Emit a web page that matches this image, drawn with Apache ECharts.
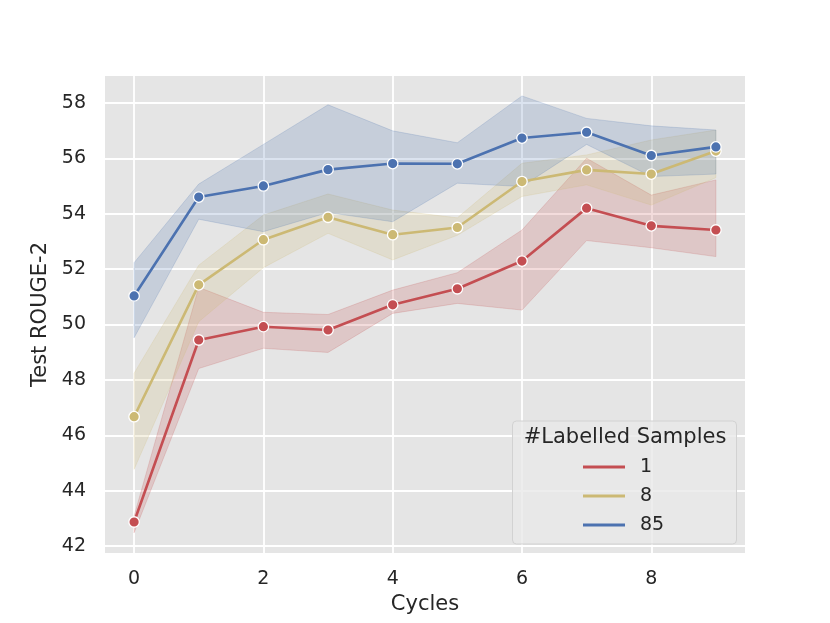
<!DOCTYPE html>
<html>
<head>
<meta charset="utf-8">
<script src="https://cdn.jsdelivr.net/npm/echarts@6/dist/echarts.min.js"></script>
<style>
html,body{margin:0;padding:0;background:#fff;}
#c{width:830px;height:623px;}
</style>
</head>
<body>
<div id="c"></div>
<script>
// ---- data ----
var cycles = [0, 1, 2, 3, 4, 5, 6, 7, 8, 9];
var seriesNames = ['1', '8', '85'];
var mean1  = [42.87, 49.44, 49.92, 49.80, 50.71, 51.29, 52.29, 54.20, 53.56, 53.41];
var upper1 = [43.08, 51.34, 50.44, 50.36, 51.24, 51.87, 53.41, 56.00, 54.67, 55.22];
var lower1 = [42.48, 48.41, 49.14, 48.99, 50.40, 50.76, 50.52, 53.03, 52.77, 52.45];
var mean8  = [46.67, 51.43, 53.06, 53.87, 53.24, 53.50, 55.16, 55.58, 55.43, 56.26];
var upper8 = [48.24, 52.14, 53.95, 54.71, 54.13, 53.85, 55.82, 56.12, 56.66, 57.02];
var lower8 = [44.77, 50.10, 52.05, 53.29, 52.33, 53.22, 54.62, 55.04, 54.31, 55.30];
var mean85  = [51.03, 54.60, 55.00, 55.59, 55.81, 55.80, 56.73, 56.94, 56.10, 56.41];
var upper85 = [52.23, 55.07, 56.50, 57.93, 56.99, 56.56, 58.25, 57.44, 57.17, 57.02];
var lower85 = [49.52, 53.80, 53.35, 54.04, 53.71, 55.10, 54.98, 56.50, 55.34, 55.43];
var colors = ['#C44E52', '#CCB974', '#4C72B0'];
var xRange = [-0.45, 9.45];
var yRange = [41.75, 58.97];

var means = [mean1, mean8, mean85];
var uppers = [upper1, upper8, upper85];
var lowers = [lower1, lower8, lower85];

var FONT = 'DejaVu Sans';
var TXT = '#262626';

function pairs(arr) { return cycles.map(function (x, i) { return [x, arr[i]]; }); }
function bandData(up, lo) { return cycles.map(function (x, i) { return [x, lo[i], up[i]]; }); }

function hexToRgba(hex, a) {
  var n = parseInt(hex.slice(1), 16);
  return 'rgba(' + ((n >> 16) & 255) + ',' + ((n >> 8) & 255) + ',' + (n & 255) + ',' + a + ')';
}

function makeBandRender(k) {
  return function (params, api) {
    if (params.dataIndex !== 0) return null;
    var n = cycles.length;
    var pts = [];
    for (var i = 0; i < n; i++) pts.push(api.coord([api.value(0, i), api.value(2, i)]));
    for (var j = n - 1; j >= 0; j--) pts.push(api.coord([api.value(0, j), api.value(1, j)]));
    return {
      type: 'polygon',
      shape: { points: pts },
      style: { fill: hexToRgba(colors[k], 0.2), stroke: hexToRgba(colors[k], 0.2), lineWidth: 1 }
    };
  };
}

var series = [];
for (var k = 0; k < 3; k++) {
  series.push({
    type: 'custom', name: 'band_' + k, silent: true,
    data: bandData(uppers[k], lowers[k]),
    encode: { x: 0, y: [1, 2] },
    renderItem: makeBandRender(k),
    clip: true,
    z: 1
  });
}
for (var k2 = 0; k2 < 3; k2++) {
  series.push({
    type: 'line', name: seriesNames[k2], data: pairs(means[k2]),
    color: colors[k2],
    symbol: 'circle', symbolSize: 10.5, showSymbol: true,
    lineStyle: { color: colors[k2], width: 2.6 },
    itemStyle: { color: colors[k2], borderColor: '#ffffff', borderWidth: 1.3 },
    z: 3
  });
}

function intFmt(v) { return Math.abs(v - Math.round(v)) < 1e-6 ? String(Math.round(v)) : ''; }

var chart = echarts.init(document.getElementById('c'), null, { renderer: 'canvas' });
chart.setOption({
  animation: false,
  backgroundColor: '#ffffff',
  textStyle: { fontFamily: FONT },
  grid: { left: 105, top: 76, right: 85, bottom: 70, show: true, backgroundColor: '#e5e5e5', borderWidth: 0, containLabel: false },
  xAxis: {
    type: 'value', min: xRange[0], max: xRange[1], minInterval: 2, maxInterval: 2,
    name: 'Cycles', nameLocation: 'middle', nameGap: 40,
    nameTextStyle: { fontFamily: FONT, fontSize: 21, color: TXT },
    axisLine: { show: false }, axisTick: { show: false },
    axisLabel: { fontFamily: FONT, fontSize: 19, color: TXT, margin: 17, formatter: intFmt, showMinLabel: false, showMaxLabel: false },
    splitLine: { show: true, showMinLine: false, showMaxLine: false, lineStyle: { color: '#ffffff', width: 1.8 } }
  },
  yAxis: {
    type: 'value', min: yRange[0], max: yRange[1], minInterval: 2, maxInterval: 2,
    name: 'Test ROUGE-2', nameLocation: 'middle', nameGap: 49,
    nameTextStyle: { fontFamily: FONT, fontSize: 21, color: TXT },
    axisLine: { show: false }, axisTick: { show: false },
    axisLabel: { fontFamily: FONT, fontSize: 19, color: TXT, margin: 19, formatter: intFmt, showMinLabel: false, showMaxLabel: false },
    splitLine: { show: true, showMinLine: false, showMaxLine: false, lineStyle: { color: '#ffffff', width: 1.8 } }
  },
  legend: {
    data: seriesNames, orient: 'vertical', left: 583, top: 457, padding: 0,
    icon: 'rect', itemWidth: 42, itemHeight: 3, itemGap: 9, z: 8,
    itemStyle: { borderWidth: 0 },
    textStyle: { fontFamily: FONT, fontSize: 19, color: TXT, lineHeight: 20, padding: [0, 0, 0, 10] },
    selectedMode: false
  },
  graphic: [
    { type: 'rect', z: 6, shape: { x: 512.5, y: 421, width: 224, height: 123, r: 4 },
      style: { fill: 'rgba(232,232,232,0.8)', stroke: '#d2d2d2', lineWidth: 1 } },
    { type: 'text', z: 7, x: 625, y: 438,
      style: { text: '#Labelled Samples', fontFamily: FONT, fontSize: 21, fill: TXT, align: 'center', verticalAlign: 'middle' } }
  ],
  series: series
});
</script>
</body>
</html>
